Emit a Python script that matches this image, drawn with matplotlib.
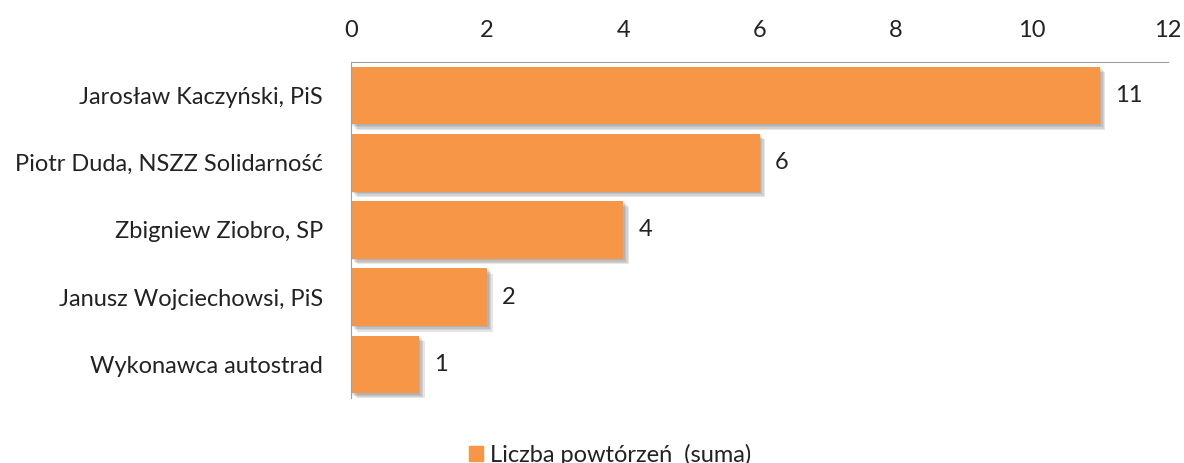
import matplotlib.pyplot as plt
import matplotlib.patheffects as pe
from matplotlib.patches import Patch
import numpy as np

plt.rcParams['font.family'] = ['Lato', 'DejaVu Sans']

names = ['Jarosław Kaczyński, PiS', 'Piotr Duda, NSZZ Solidarność',
         'Zbigniew Ziobro, SP', 'Janusz Wojciechowsi, PiS', 'Wykonawca autostrad']
counts = [11, 6, 4, 2, 1]
series = 'Liczba powtórzeń  (suma)'

color = '#F79646'
textc = '#222222'
fs = 17

fig = plt.figure(figsize=(11.84, 4.63), dpi=100)
ax = fig.add_axes([351/1184, 1 - 398/463, (1168 - 351)/1184, (398 - 62)/463])

# soft drop shadow
shadow = [pe.SimplePatchShadow(offset=(1 + i, -1 - i), shadow_rgbFace='#777777', alpha=0.18)
          for i in range(4)] + [pe.Normal()]

y = np.arange(len(names))
bars = ax.barh(y, counts, height=0.86, color=color, path_effects=shadow)
ax.set_ylim(len(names) - 0.5, -0.5)
ax.set_xlim(0, 12)
ax.set_xticks(range(0, 13, 2))
ax.xaxis.tick_top()
ax.tick_params(axis='x', length=0, pad=15, labelsize=fs, labelcolor=textc)
ax.tick_params(axis='y', length=0, pad=20, labelsize=fs, labelcolor=textc)
ax.set_yticks(y)
ax.set_yticklabels(names)

for s in ['right', 'bottom']:
    ax.spines[s].set_visible(False)
ax.spines['top'].set_color('#a0a0a0')
ax.spines['left'].set_color('#a0a0a0')

for b, v in zip(bars, counts):
    ax.text(v + 0.22, b.get_y() + b.get_height() / 2, str(v), va='center', ha='left',
            fontsize=fs, color=textc)

fig.legend(handles=[Patch(color=color)], labels=[series], loc='lower center',
           bbox_to_anchor=(0.515, -0.052), frameon=False, fontsize=fs,
           handlelength=0.6, handleheight=0.6, handletextpad=0.3, labelcolor=textc)

fig.savefig('out.png', dpi=100)
